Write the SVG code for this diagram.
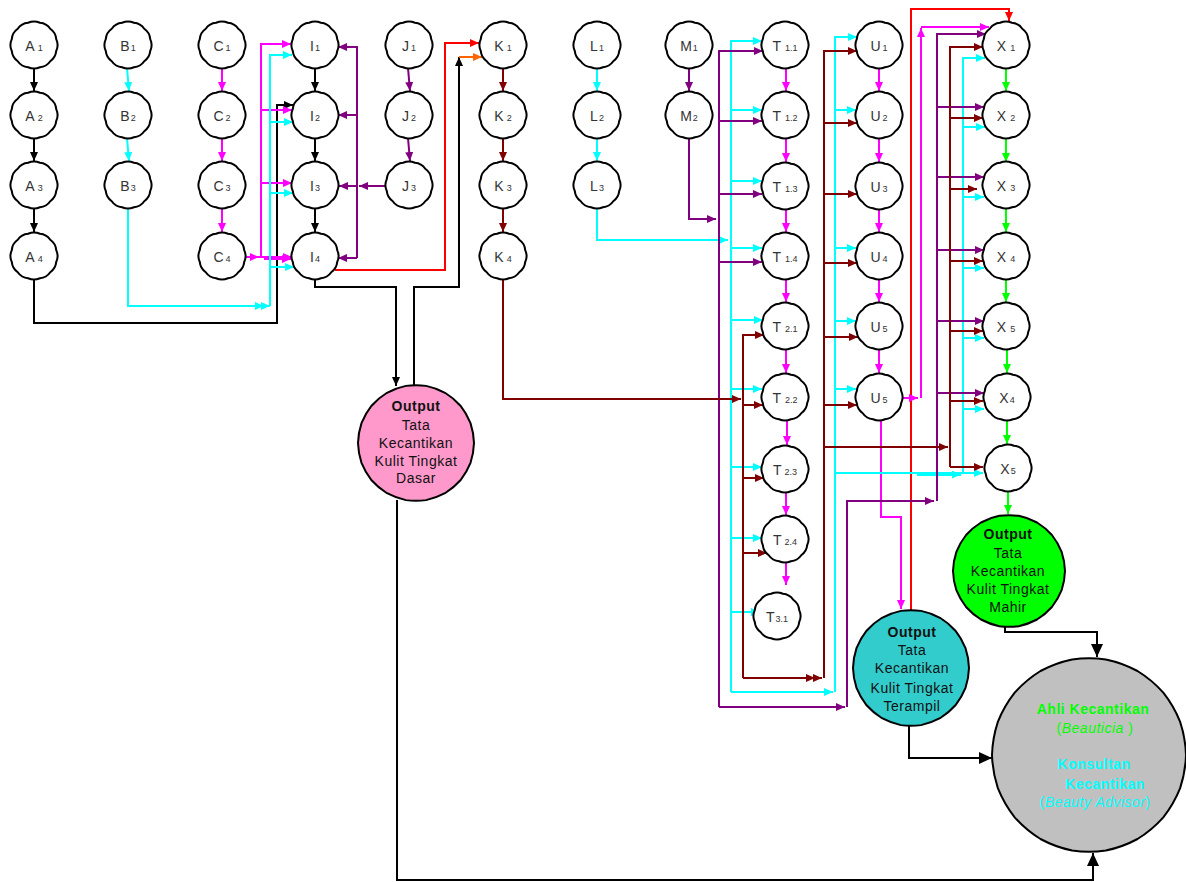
<svg xmlns="http://www.w3.org/2000/svg" xmlns:xlink="http://www.w3.org/1999/xlink" width="1186" height="882" viewBox="0 0 1186 882">
<style>
path{fill:none;stroke-width:2}
.k{stroke:#000}.c{stroke:#00ffff}.m{stroke:#ff00ff}.p{stroke:#800080}.r{stroke:#800000}.rd{stroke:#ff0000}.o{stroke:#ff6600}.g{stroke:#00ff00}
.lb{font-family:"Liberation Sans",Arial,sans-serif;font-size:14px;fill:#333;text-anchor:middle}
.sb{font-size:9px}
.ot{font-family:"Liberation Sans",Arial,sans-serif;font-size:14px;fill:#111;text-anchor:middle;letter-spacing:0.5px}
.b{font-weight:bold}
.it{font-style:italic}
.nd{fill:#fff;stroke:#000;stroke-width:2}
</style>
<defs>
<path id="sn" d="M22.22,5.95 A14,14 0 0 1 16.26,16.26 A14,14 0 0 1 5.95,22.22 A14,14 0 0 1 -5.95,22.22 A14,14 0 0 1 -16.26,16.26 A14,14 0 0 1 -22.22,5.95 A14,14 0 0 1 -22.22,-5.95 A14,14 0 0 1 -16.26,-16.26 A14,14 0 0 1 -5.95,-22.22 A14,14 0 0 1 5.95,-22.22 A14,14 0 0 1 16.26,-16.26 A14,14 0 0 1 22.22,-5.95 A14,14 0 0 1 22.22,5.95 Z" style="fill:inherit;stroke:inherit;stroke-width:inherit"/>
<path id="bn" d="M50,0 A60,60 0 0 1 46.98,17.1 A60,60 0 0 1 38.3,32.14 A60,60 0 0 1 25,43.3 A60,60 0 0 1 8.68,49.24 A60,60 0 0 1 -8.68,49.24 A60,60 0 0 1 -25,43.3 A60,60 0 0 1 -38.3,32.14 A60,60 0 0 1 -46.98,17.1 A60,60 0 0 1 -50,0 A60,60 0 0 1 -46.98,-17.1 A60,60 0 0 1 -38.3,-32.14 A60,60 0 0 1 -25,-43.3 A60,60 0 0 1 -8.68,-49.24 A60,60 0 0 1 8.68,-49.24 A60,60 0 0 1 25,-43.3 A60,60 0 0 1 38.3,-32.14 A60,60 0 0 1 46.98,-17.1 A60,60 0 0 1 50,0 Z" style="fill:inherit;stroke:inherit;stroke-width:inherit"/>
<marker id="ak" markerUnits="userSpaceOnUse" markerWidth="9" markerHeight="8" refX="9" refY="4" orient="auto"><path d="M0,0L9,4L0,8z" style="fill:#000;stroke:none"/></marker>
<marker id="akB" markerUnits="userSpaceOnUse" markerWidth="13" markerHeight="12" refX="13" refY="6" orient="auto"><path d="M0,0L13,6L0,12z" style="fill:#000;stroke:none"/></marker>
<marker id="ac" markerUnits="userSpaceOnUse" markerWidth="9" markerHeight="8" refX="9" refY="4" orient="auto"><path d="M0,0L9,4L0,8z" style="fill:#00ffff;stroke:none"/></marker>
<marker id="am" markerUnits="userSpaceOnUse" markerWidth="9" markerHeight="8" refX="9" refY="4" orient="auto"><path d="M0,0L9,4L0,8z" style="fill:#ff00ff;stroke:none"/></marker>
<marker id="ap" markerUnits="userSpaceOnUse" markerWidth="9" markerHeight="8" refX="9" refY="4" orient="auto"><path d="M0,0L9,4L0,8z" style="fill:#800080;stroke:none"/></marker>
<marker id="ar" markerUnits="userSpaceOnUse" markerWidth="9" markerHeight="8" refX="9" refY="4" orient="auto"><path d="M0,0L9,4L0,8z" style="fill:#800000;stroke:none"/></marker>
<marker id="ard" markerUnits="userSpaceOnUse" markerWidth="9" markerHeight="8" refX="9" refY="4" orient="auto"><path d="M0,0L9,4L0,8z" style="fill:#ff0000;stroke:none"/></marker>
<marker id="ao" markerUnits="userSpaceOnUse" markerWidth="9" markerHeight="8" refX="9" refY="4" orient="auto"><path d="M0,0L9,4L0,8z" style="fill:#ff6600;stroke:none"/></marker>
<marker id="ag" markerUnits="userSpaceOnUse" markerWidth="9" markerHeight="8" refX="9" refY="4" orient="auto"><path d="M0,0L9,4L0,8z" style="fill:#00ff00;stroke:none"/></marker>
</defs>
<rect width="1186" height="882" fill="#fff"/>
<g id="connectors">
<!-- black -->
<path class="k" d="M34,68V91" marker-end="url(#ak)"/>
<path class="k" d="M34,138V161" marker-end="url(#ak)"/>
<path class="k" d="M34,208V232" marker-end="url(#ak)"/>
<path class="k" d="M34,279V323H277V105H293" marker-end="url(#ak)"/>
<path class="k" d="M315,68V91" marker-end="url(#ak)"/>
<path class="k" d="M315,138V161" marker-end="url(#ak)"/>
<path class="k" d="M315,208V232" marker-end="url(#ak)"/>
<path class="k" d="M315,279V287H396V386" marker-end="url(#ak)"/>
<path class="k" d="M414,385V287H459V57" marker-end="url(#ak)"/>
<path class="k" d="M397,500V880H1093V853" marker-end="url(#akB)"/>
<path class="k" d="M1005,627V632H1097V657" marker-end="url(#akB)"/>
<path class="k" d="M909,726V758H992" marker-end="url(#akB)"/>
<!-- orange / red -->
<path class="o" d="M459,57H482" marker-end="url(#ao)"/>
<path class="rd" d="M335,270H445V43H479" marker-end="url(#ard)"/>
<path class="rd" d="M911,610V9H1009V21" marker-end="url(#ard)"/>
<!-- magenta -->
<path class="m" d="M222,68V91" marker-end="url(#am)"/>
<path class="m" d="M222,138V161" marker-end="url(#am)"/>
<path class="m" d="M222,208V232" marker-end="url(#am)"/>
<path class="m" d="M245,257H259" marker-end="url(#am)"/>
<path class="m" d="M261,257V44H291" marker-end="url(#am)"/>
<path class="m" d="M261,110H292" marker-end="url(#am)"/>
<path class="m" d="M261,183H292" marker-end="url(#am)"/>
<path class="m" d="M259,257H292" marker-end="url(#am)"/>
<path class="m" d="M264,259H291" marker-end="url(#am)"/>
<path class="m" d="M786,68V91" marker-end="url(#am)"/>
<path class="m" d="M786,138V162" marker-end="url(#am)"/>
<path class="m" d="M786,209V232" marker-end="url(#am)"/>
<path class="m" d="M786,279V302" marker-end="url(#am)"/>
<path class="m" d="M786,349V373" marker-end="url(#am)"/>
<path class="m" d="M787,420V445" marker-end="url(#am)"/>
<path class="m" d="M786,492V515" marker-end="url(#am)"/>
<path class="m" d="M786,562V585" marker-end="url(#am)"/>
<path class="m" d="M879,68V91" marker-end="url(#am)"/>
<path class="m" d="M879,138V162" marker-end="url(#am)"/>
<path class="m" d="M879,209V232" marker-end="url(#am)"/>
<path class="m" d="M879,279V302" marker-end="url(#am)"/>
<path class="m" d="M879,349V373" marker-end="url(#am)"/>
<path class="m" d="M902,398H918" marker-end="url(#am)"/>
<path class="m" d="M921,398V28" marker-end="url(#am)"/>
<path class="m" d="M921,27H989" marker-end="url(#am)"/>
<path class="m" d="M881,420V517H901V609" marker-end="url(#am)"/>
<!-- cyan -->
<path class="c" d="M127,68L129,91" marker-end="url(#ac)"/>
<path class="c" d="M127,138L129,161" marker-end="url(#ac)"/>
<path class="c" d="M128,208V306H270" marker-end="url(#ac)"/>
<path class="c" d="M250,306H264" marker-end="url(#ac)"/>
<path class="c" d="M270,306V55H292" marker-end="url(#ac)"/>
<path class="c" d="M270,122H293" marker-end="url(#ac)"/>
<path class="c" d="M270,193H293" marker-end="url(#ac)"/>
<path class="c" d="M270,267H294" marker-end="url(#ac)"/>
<path class="c" d="M597,68V91" marker-end="url(#ac)"/>
<path class="c" d="M597,138V161" marker-end="url(#ac)"/>
<path class="c" d="M597,208V240H728" marker-end="url(#ac)"/>
<path class="c" d="M731,692V41H762" marker-end="url(#ac)"/>
<path class="c" d="M731,110H762" marker-end="url(#ac)"/>
<path class="c" d="M731,181H762" marker-end="url(#ac)"/>
<path class="c" d="M731,248H762" marker-end="url(#ac)"/>
<path class="c" d="M731,320H763" marker-end="url(#ac)"/>
<path class="c" d="M731,389H762" marker-end="url(#ac)"/>
<path class="c" d="M731,467H762" marker-end="url(#ac)"/>
<path class="c" d="M731,538H762" marker-end="url(#ac)"/>
<path class="c" d="M731,612H760" marker-end="url(#ac)"/>
<path class="c" d="M731,692H833" marker-end="url(#ac)"/>
<path class="c" d="M835,692V37H857" marker-end="url(#ac)"/>
<path class="c" d="M835,110H856" marker-end="url(#ac)"/>
<path class="c" d="M835,248H856" marker-end="url(#ac)"/>
<path class="c" d="M835,321H856" marker-end="url(#ac)"/>
<path class="c" d="M835,389H856" marker-end="url(#ac)"/>
<path class="c" d="M835,473H983" marker-end="url(#ac)"/>
<path class="c" d="M917,474.5H961" marker-end="url(#ac)" style="stroke-width:3"/>
<path class="c" d="M963,473V58H985" marker-end="url(#ac)"/>
<path class="c" d="M963,127H985" marker-end="url(#ac)"/>
<path class="c" d="M963,197H984" marker-end="url(#ac)"/>
<path class="c" d="M963,268H984" marker-end="url(#ac)"/>
<path class="c" d="M963,338H984" marker-end="url(#ac)"/>
<path class="c" d="M963,409H984" marker-end="url(#ac)"/>
<!-- purple -->
<path class="p" d="M408,68L410,91" marker-end="url(#ap)"/>
<path class="p" d="M408,138L410,161" marker-end="url(#ap)"/>
<path class="p" d="M386,186H359" marker-end="url(#ap)"/>
<path class="p" d="M358,186H339" marker-end="url(#ap)"/>
<path class="p" d="M357,258V47H338" marker-end="url(#ap)"/>
<path class="p" d="M357,115H338" marker-end="url(#ap)"/>
<path class="p" d="M357,258H338" marker-end="url(#ap)"/>
<path class="p" d="M689,68V91" marker-end="url(#ap)"/>
<path class="p" d="M689,138V219H716" marker-end="url(#ap)"/>
<path class="p" d="M719,707V51H763" marker-end="url(#ap)"/>
<path class="p" d="M719,121H762" marker-end="url(#ap)"/>
<path class="p" d="M719,194H762" marker-end="url(#ap)"/>
<path class="p" d="M719,262H762" marker-end="url(#ap)"/>
<path class="p" d="M719,707H845" marker-end="url(#ap)"/>
<path class="p" d="M847,707V501H934" marker-end="url(#ap)"/>
<path class="p" d="M937,501V34H986" marker-end="url(#ap)"/>
<path class="p" d="M937,107H984" marker-end="url(#ap)"/>
<path class="p" d="M937,177H984" marker-end="url(#ap)"/>
<path class="p" d="M937,250H984" marker-end="url(#ap)"/>
<path class="p" d="M937,321H984" marker-end="url(#ap)"/>
<path class="p" d="M937,393H984" marker-end="url(#ap)"/>
<!-- maroon -->
<path class="r" d="M503,68V91" marker-end="url(#ar)"/>
<path class="r" d="M503,138V161" marker-end="url(#ar)"/>
<path class="r" d="M503,208V232" marker-end="url(#ar)"/>
<path class="r" d="M503,279V399H741" marker-end="url(#ar)"/>
<path class="r" d="M743,678V335H764" marker-end="url(#ar)"/>
<path class="r" d="M743,405H763" marker-end="url(#ar)"/>
<path class="r" d="M743,478H764" marker-end="url(#ar)"/>
<path class="r" d="M743,553H767" marker-end="url(#ar)"/>
<path class="r" d="M743,678H822" marker-end="url(#ar)"/>
<path class="r" d="M743,678H815" marker-end="url(#ar)"/>
<path class="r" d="M824,678V51H857" marker-end="url(#ar)"/>
<path class="r" d="M824,123H857" marker-end="url(#ar)"/>
<path class="r" d="M824,194H857" marker-end="url(#ar)"/>
<path class="r" d="M824,263H857" marker-end="url(#ar)"/>
<path class="r" d="M824,337H858" marker-end="url(#ar)"/>
<path class="r" d="M824,405H857" marker-end="url(#ar)"/>
<path class="r" d="M824,447H948" marker-end="url(#ar)"/>
<path class="r" d="M950,467V47H983" marker-end="url(#ar)"/>
<path class="r" d="M950,118H983" marker-end="url(#ar)"/>
<path class="r" d="M950,189H977" marker-end="url(#ar)"/>
<path class="r" d="M950,261H983" marker-end="url(#ar)"/>
<path class="r" d="M950,331H983" marker-end="url(#ar)"/>
<path class="r" d="M950,401H983" marker-end="url(#ar)"/>
<path class="r" d="M950,467H983" marker-end="url(#ar)"/>
<!-- green -->
<path class="g" d="M1006,68V91" marker-end="url(#ag)"/>
<path class="g" d="M1006,138V162" marker-end="url(#ag)"/>
<path class="g" d="M1006,208V232" marker-end="url(#ag)"/>
<path class="g" d="M1006,279V302" marker-end="url(#ag)"/>
<path class="g" d="M1007,349V373" marker-end="url(#ag)"/>
<path class="g" d="M1007,420V444" marker-end="url(#ag)"/>
<path class="g" d="M1008,491V514" marker-end="url(#ag)"/>
</g>
<g id="A1"><use href="#sn" x="34" y="45" class="nd"/><text class="lb" x="34" y="51">A<tspan class="sb" dx="3">1</tspan></text></g>
<g id="A2"><use href="#sn" x="34" y="115" class="nd"/><text class="lb" x="34" y="121">A<tspan class="sb" dx="3">2</tspan></text></g>
<g id="A3"><use href="#sn" x="34" y="185" class="nd"/><text class="lb" x="34" y="191">A<tspan class="sb" dx="3">3</tspan></text></g>
<g id="A4"><use href="#sn" x="34" y="256" class="nd"/><text class="lb" x="34" y="262">A<tspan class="sb" dx="3">4</tspan></text></g>
<g id="B1"><use href="#sn" x="128" y="45" class="nd"/><text class="lb" x="128" y="51">B<tspan class="sb" dx="1">1</tspan></text></g>
<g id="B2"><use href="#sn" x="128" y="115" class="nd"/><text class="lb" x="128" y="121">B<tspan class="sb" dx="1">2</tspan></text></g>
<g id="B3"><use href="#sn" x="128" y="185" class="nd"/><text class="lb" x="128" y="191">B<tspan class="sb" dx="1">3</tspan></text></g>
<g id="C1"><use href="#sn" x="222" y="45" class="nd"/><text class="lb" x="222" y="51">C<tspan class="sb" dx="2">1</tspan></text></g>
<g id="C2"><use href="#sn" x="222" y="115" class="nd"/><text class="lb" x="222" y="121">C<tspan class="sb" dx="2">2</tspan></text></g>
<g id="C3"><use href="#sn" x="222" y="185" class="nd"/><text class="lb" x="222" y="191">C<tspan class="sb" dx="2">3</tspan></text></g>
<g id="C4"><use href="#sn" x="222" y="256" class="nd"/><text class="lb" x="222" y="262">C<tspan class="sb" dx="2">4</tspan></text></g>
<g id="I1"><use href="#sn" x="315" y="45" class="nd"/><text class="lb" x="315" y="51">I<tspan class="sb" dx="1">1</tspan></text></g>
<g id="I2"><use href="#sn" x="315" y="115" class="nd"/><text class="lb" x="315" y="121">I<tspan class="sb" dx="1">2</tspan></text></g>
<g id="I3"><use href="#sn" x="315" y="185" class="nd"/><text class="lb" x="315" y="191">I<tspan class="sb" dx="1">3</tspan></text></g>
<g id="I4"><use href="#sn" x="315" y="256" class="nd"/><text class="lb" x="315" y="262">I<tspan class="sb" dx="1">4</tspan></text></g>
<g id="J1"><use href="#sn" x="409" y="45" class="nd"/><text class="lb" x="409" y="51">J<tspan class="sb" dx="2">1</tspan></text></g>
<g id="J2"><use href="#sn" x="409" y="115" class="nd"/><text class="lb" x="409" y="121">J<tspan class="sb" dx="2">2</tspan></text></g>
<g id="J3"><use href="#sn" x="409" y="185" class="nd"/><text class="lb" x="409" y="191">J<tspan class="sb" dx="2">3</tspan></text></g>
<g id="K1"><use href="#sn" x="503" y="45" class="nd"/><text class="lb" x="503" y="51">K<tspan class="sb" dx="3">1</tspan></text></g>
<g id="K2"><use href="#sn" x="503" y="115" class="nd"/><text class="lb" x="503" y="121">K<tspan class="sb" dx="3">2</tspan></text></g>
<g id="K3"><use href="#sn" x="503" y="185" class="nd"/><text class="lb" x="503" y="191">K<tspan class="sb" dx="3">3</tspan></text></g>
<g id="K4"><use href="#sn" x="503" y="256" class="nd"/><text class="lb" x="503" y="262">K<tspan class="sb" dx="3">4</tspan></text></g>
<g id="L1"><use href="#sn" x="597" y="45" class="nd"/><text class="lb" x="597" y="51">L<tspan class="sb" dx="1">1</tspan></text></g>
<g id="L2"><use href="#sn" x="597" y="115" class="nd"/><text class="lb" x="597" y="121">L<tspan class="sb" dx="1">2</tspan></text></g>
<g id="L3"><use href="#sn" x="597" y="185" class="nd"/><text class="lb" x="597" y="191">L<tspan class="sb" dx="1">3</tspan></text></g>
<g id="M1"><use href="#sn" x="689" y="45" class="nd"/><text class="lb" x="689" y="51">M<tspan class="sb" dx="1">1</tspan></text></g>
<g id="M2"><use href="#sn" x="689" y="115" class="nd"/><text class="lb" x="689" y="121">M<tspan class="sb" dx="1">2</tspan></text></g>
<g id="T1.1"><use href="#sn" x="785" y="45" class="nd"/><text class="lb" x="785" y="51">T<tspan class="sb" dx="4">1.1</tspan></text></g>
<g id="T1.2"><use href="#sn" x="785" y="115" class="nd"/><text class="lb" x="785" y="121">T<tspan class="sb" dx="4">1.2</tspan></text></g>
<g id="T1.3"><use href="#sn" x="785" y="186" class="nd"/><text class="lb" x="785" y="192">T<tspan class="sb" dx="4">1.3</tspan></text></g>
<g id="T1.4"><use href="#sn" x="785" y="256" class="nd"/><text class="lb" x="785" y="262">T<tspan class="sb" dx="4">1.4</tspan></text></g>
<g id="T2.1"><use href="#sn" x="785" y="326" class="nd"/><text class="lb" x="785" y="332">T<tspan class="sb" dx="4">2.1</tspan></text></g>
<g id="T2.2"><use href="#sn" x="785" y="397" class="nd"/><text class="lb" x="785" y="403">T<tspan class="sb" dx="4">2.2</tspan></text></g>
<g id="T2.3"><use href="#sn" x="785" y="469" class="nd"/><text class="lb" x="785" y="475">T<tspan class="sb" dx="3">2.3</tspan></text></g>
<g id="T2.4"><use href="#sn" x="785" y="539" class="nd"/><text class="lb" x="785" y="545">T<tspan class="sb" dx="3">2.4</tspan></text></g>
<g id="T3.1"><use href="#sn" x="777" y="616" class="nd"/><text class="lb" x="777" y="622">T<tspan class="sb" dx="1">3.1</tspan></text></g>
<g id="U1"><use href="#sn" x="879" y="45" class="nd"/><text class="lb" x="879" y="51">U<tspan class="sb" dx="2">1</tspan></text></g>
<g id="U2"><use href="#sn" x="879" y="115" class="nd"/><text class="lb" x="879" y="121">U<tspan class="sb" dx="2">2</tspan></text></g>
<g id="U3"><use href="#sn" x="879" y="186" class="nd"/><text class="lb" x="879" y="192">U<tspan class="sb" dx="2">3</tspan></text></g>
<g id="U4"><use href="#sn" x="879" y="256" class="nd"/><text class="lb" x="879" y="262">U<tspan class="sb" dx="2">4</tspan></text></g>
<g id="U5"><use href="#sn" x="879" y="326" class="nd"/><text class="lb" x="879" y="332">U<tspan class="sb" dx="2">5</tspan></text></g>
<g id="U5b"><use href="#sn" x="879" y="397" class="nd"/><text class="lb" x="879" y="403">U<tspan class="sb" dx="2">5</tspan></text></g>
<g id="X1"><use href="#sn" x="1006" y="45" class="nd"/><text class="lb" x="1006" y="51">X<tspan class="sb" dx="4">1</tspan></text></g>
<g id="X2"><use href="#sn" x="1006" y="115" class="nd"/><text class="lb" x="1006" y="121">X<tspan class="sb" dx="4">2</tspan></text></g>
<g id="X3"><use href="#sn" x="1006" y="185" class="nd"/><text class="lb" x="1006" y="191">X<tspan class="sb" dx="4">3</tspan></text></g>
<g id="X4"><use href="#sn" x="1006" y="256" class="nd"/><text class="lb" x="1006" y="262">X<tspan class="sb" dx="4">4</tspan></text></g>
<g id="X5"><use href="#sn" x="1006" y="326" class="nd"/><text class="lb" x="1006" y="332">X<tspan class="sb" dx="4">5</tspan></text></g>
<g id="X4b"><use href="#sn" x="1007" y="397" class="nd"/><text class="lb" x="1007" y="403">X<tspan class="sb" dx="1">4</tspan></text></g>
<g id="X5b"><use href="#sn" x="1008" y="468" class="nd"/><text class="lb" x="1008" y="474">X<tspan class="sb" dx="1">5</tspan></text></g>
<g id="out-dasar"><use href="#bn" transform="translate(416,443) scale(1.16)" style="fill:#ff99cc;stroke:#000;stroke-width:1.72"/>
<text class="ot b" x="416" y="411">Output</text><text class="ot" x="416" y="429.5">Tata</text><text class="ot" x="416" y="447.5">Kecantikan</text><text class="ot" x="416" y="465.5">Kulit Tingkat</text><text class="ot" x="416" y="483">Dasar</text></g>
<g id="out-mahir"><use href="#bn" transform="translate(1009,571) scale(1.12)" style="fill:#00ff00;stroke:#000;stroke-width:1.79"/>
<text class="ot b" x="1008" y="539">Output</text><text class="ot" x="1008" y="558">Tata</text><text class="ot" x="1008" y="576">Kecantikan</text><text class="ot" x="1008" y="594">Kulit Tingkat</text><text class="ot" x="1008" y="612">Mahir</text></g>
<g id="out-terampil"><use href="#bn" transform="translate(911,668) scale(1.16)" style="fill:#33cccc;stroke:#000;stroke-width:1.72"/>
<text class="ot b" x="912" y="637">Output</text><text class="ot" x="912" y="655">Tata</text><text class="ot" x="912" y="673">Kecantikan</text><text class="ot" x="912" y="693">Kulit Tingkat</text><text class="ot" x="912" y="711">Terampil</text></g>
<g id="profesi"><use href="#bn" transform="translate(1089,755) scale(1.94)" style="fill:#c0c0c0;stroke:#000;stroke-width:1.03"/>
<text class="ot b" x="1093" y="714" style="fill:#00ff00">Ahli Kecantikan</text>
<text class="ot" x="1095" y="733" style="fill:#00ff00">(<tspan class="it">Beauticia </tspan>)</text>
<text class="ot b" x="1094" y="769" style="fill:#00ffff">Konsultan</text>
<text class="ot b" x="1105" y="789" style="fill:#00ffff">Kecantikan</text>
<text class="ot" x="1095" y="807" style="fill:#00ffff">(<tspan class="it">Beauty Advisor</tspan>)</text></g>
</svg>
